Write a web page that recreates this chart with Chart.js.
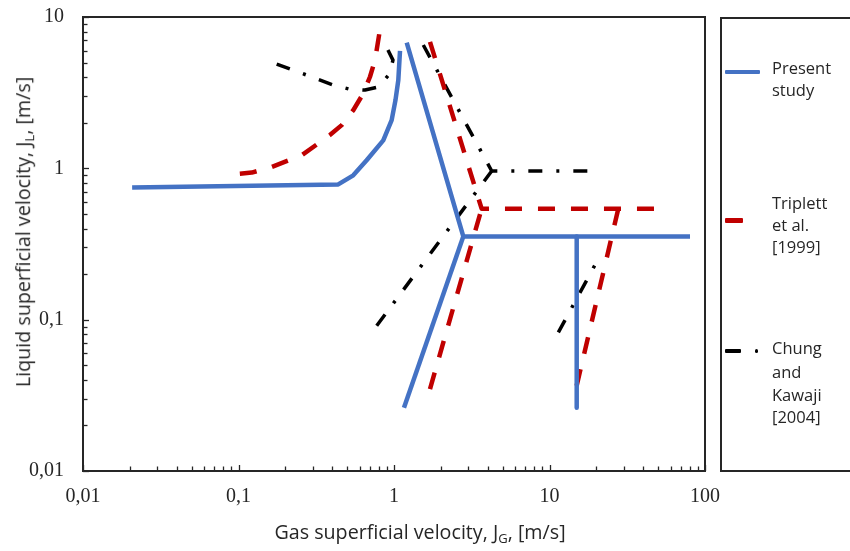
<!DOCTYPE html>
<html>
<head>
<meta charset="utf-8">
<script src="https://cdn.jsdelivr.net/npm/chart.js@4"></script>
<style>
html,body{margin:0;padding:0;background:#fff;}
#wrap{position:relative;width:850px;height:551px;overflow:hidden;background:#fff;}
#c{position:absolute;left:0;top:0;}
.t{position:absolute;font-family:"Open Sans",sans-serif;color:#262626;white-space:nowrap;line-height:1;}
.t sub{font-size:0.66em;vertical-align:-0.3em;line-height:0;}
#xt{left:420px;top:532px;font-size:19.7px;transform:translate(-50%,-50%);}
#yt{left:23px;top:232px;font-size:19.7px;transform:translate(-50%,-50%) rotate(-90deg);}
#legend{position:absolute;left:720px;top:17px;width:150px;height:451px;border:2px solid #262626;box-sizing:content-box;}
.lt{position:absolute;left:772px;font-family:"Open Sans",sans-serif;font-size:16.5px;color:#262626;transform:translateY(-50%);white-space:nowrap;line-height:1;}
.sw{position:absolute;}
</style>
</head>
<body>
<div id="wrap">
<canvas id="c" width="850" height="551"></canvas>
<div id="xt" class="t">Gas superficial velocity, J<sub>G</sub>, [m/s]</div>
<div id="yt" class="t">Liquid superficial velocity, J<sub>L</sub>, [m/s]</div>
<div id="legend"></div>
<div class="sw" style="left:725px;top:69.5px;width:35px;height:4.5px;background:#4472C4;border-radius:1px;"></div>
<div class="lt" style="top:68px;">Present</div>
<div class="lt" style="top:90px;">study</div>
<div class="sw" style="left:725px;top:218px;width:18px;height:4.5px;background:#C00000;border-radius:1px;"></div>
<div class="lt" style="top:203px;">Triplett</div>
<div class="lt" style="top:225px;">et al.</div>
<div class="lt" style="top:247px;">[1999]</div>
<div class="sw" style="left:725px;top:349px;width:16px;height:3.5px;background:#000;border-radius:1px;"></div>
<div class="sw" style="left:754.5px;top:349px;width:3.5px;height:3.5px;background:#000;border-radius:2px;"></div>
<div class="lt" style="top:348px;">Chung</div>
<div class="lt" style="top:372px;">and</div>
<div class="lt" style="top:395px;">Kawaji</div>
<div class="lt" style="top:417px;">[2004]</div>
</div>
<script>
// ---- Data (J_G gas superficial velocity, J_L liquid superficial velocity, m/s) ----
const presentStudyCurveJG = [0.0207, 0.438, 0.547, 0.667, 0.853, 0.966, 1.022, 1.066, 1.093];
const presentStudyCurveJL = [0.748, 0.783, 0.899, 1.13, 1.53, 2.08, 2.82, 3.83, 5.98];
const presentStudyUpperJG = [1.207, 2.79, 80.1];
const presentStudyUpperJL = [6.76, 0.355, 0.355];
const presentStudyLowerJG = [1.159, 2.79];
const presentStudyLowerJL = [0.0262, 0.355];
const presentStudyRightJG = [14.96, 14.96];
const presentStudyRightJL = [0.355, 0.0262];

const triplettCurveJG = [0.102, 0.1217, 0.1635, 0.255, 0.387, 0.461, 0.547, 0.635, 0.701, 0.755, 0.813];
const triplettCurveJL = [0.922, 0.937, 1.02, 1.22, 1.66, 1.93, 2.42, 3.13, 4.03, 5.19, 8.29];
const triplettUpperJG = [1.704, 3.66, 55.3];
const triplettUpperJL = [6.85, 0.541, 0.541];
const triplettLowerJG = [1.704, 3.66];
const triplettLowerJL = [0.0348, 0.541];
const triplettRightJG = [27.7, 14.6];
const triplettRightJL = [0.541, 0.033];

const chungCurveJG = [0.176, 0.268, 0.407, 0.516, 0.651, 0.793, 0.933, 0.985, 0.888];
const chungCurveJL = [4.89, 4.17, 3.55, 3.34, 3.29, 3.45, 4.19, 5.19, 6.43];
const chungUpperJG = [1.543, 4.25, 18.7];
const chungUpperJL = [6.53, 0.96, 0.96];
const chungLowerJG = [0.774, 4.25];
const chungLowerJL = [0.0912, 0.96];
const chungRightJG = [11.4, 20.5];
const chungRightJL = [0.0824, 0.25];

const xDecades = [0.01, 0.1, 1, 10, 100];
const yDecades = [0.01, 0.1, 1, 10];

// ---- Styles ----
const styles = {
  present: {borderColor: '#4472C4', borderWidth: 4.5, borderDash: []},
  triplett: {borderColor: '#C00000', borderWidth: 4.5, borderDash: [17, 16]},
  chung: {borderColor: '#000000', borderWidth: 3.5, borderDash: [14, 14, 3, 14]}
};

const segments = [
  ['present', presentStudyCurveJG, presentStudyCurveJL],
  ['present', presentStudyUpperJG, presentStudyUpperJL],
  ['present', presentStudyLowerJG, presentStudyLowerJL],
  ['present', presentStudyRightJG, presentStudyRightJL],
  ['triplett', triplettCurveJG, triplettCurveJL],
  ['triplett', triplettUpperJG, triplettUpperJL],
  ['triplett', triplettLowerJG, triplettLowerJL],
  ['triplett', triplettRightJG, triplettRightJL],
  ['chung', chungCurveJG, chungCurveJL],
  ['chung', chungUpperJG, chungUpperJL],
  ['chung', chungLowerJG, chungLowerJL],
  ['chung', chungRightJG, chungRightJL]
];

const datasets = segments.map(([key, xs, ys]) => Object.assign({
  data: xs.map((v, i) => ({x: v, y: ys[i]})),
  showLine: true,
  fill: false,
  pointRadius: 0,
  pointHoverRadius: 0,
  tension: 0,
  borderCapStyle: 'butt',
  borderJoinStyle: 'round'
}, styles[key]));

function isDecade(v) {
  const l = Math.log10(v);
  return Math.abs(l - Math.round(l)) < 1e-9;
}
function logTicks(decades) {
  const out = [];
  for (let i = 0; i < decades.length - 1; i++) {
    for (let m = 1; m <= 9; m++) out.push(parseFloat((m * decades[i]).toPrecision(6)));
  }
  out.push(decades[decades.length - 1]);
  return out.map(v => ({value: v}));
}
function fmt(v) {
  return isDecade(v) ? String(v).replace('.', ',') : '';
}

const tickFont = {family: '"Liberation Serif", "Times New Roman", serif', size: 20};

const frameAndTicks = {
  id: 'frameAndTicks',
  afterDraw(chart) {
    const {ctx, chartArea: a, scales: {x, y}} = chart;
    ctx.save();
    ctx.strokeStyle = '#262626';
    ctx.lineWidth = 1.3;
    x.ticks.forEach(t => {
      const px = Math.round(x.getPixelForValue(t.value)) + 0.5;
      ctx.beginPath();
      ctx.moveTo(px, a.bottom);
      ctx.lineTo(px, a.bottom - (isDecade(t.value) ? 6 : 4.5));
      ctx.stroke();
    });
    y.ticks.forEach(t => {
      const py = Math.round(y.getPixelForValue(t.value)) + 0.5;
      ctx.beginPath();
      ctx.moveTo(a.left, py);
      ctx.lineTo(a.left + (isDecade(t.value) ? 6 : 4.5), py);
      ctx.stroke();
    });
    ctx.lineWidth = 2;
    ctx.strokeRect(a.left, a.top, a.right - a.left, a.bottom - a.top);
    ctx.restore();
  }
};

new Chart(document.getElementById('c'), {
  type: 'scatter',
  data: {datasets},
  options: {
    responsive: false,
    animation: false,
    devicePixelRatio: 1,
    layout: {padding: {top: 17, right: 145, left: 0, bottom: 0}},
    plugins: {legend: {display: false}, tooltip: {enabled: false}},
    events: [],
    scales: {
      x: {
        type: 'logarithmic',
        min: xDecades[0],
        max: xDecades[xDecades.length - 1],
        grid: {display: false, drawTicks: false, tickLength: 0},
        border: {display: false},
        afterBuildTicks(s) { s.ticks = logTicks(xDecades); },
        afterFit(s) { s.height = 80; s.paddingLeft = 0; s.paddingRight = 0; },
        ticks: {
          autoSkip: false, maxRotation: 0, minRotation: 0,
          padding: 13.5, color: '#262626', font: tickFont,
          callback: v => fmt(v)
        }
      },
      y: {
        type: 'logarithmic',
        min: yDecades[0],
        max: yDecades[yDecades.length - 1],
        grid: {display: false, drawTicks: false, tickLength: 0},
        border: {display: false},
        afterBuildTicks(s) { s.ticks = logTicks(yDecades); },
        afterFit(s) { s.width = 83; s.paddingTop = 0; s.paddingBottom = 0; },
        ticks: {
          autoSkip: false,
          padding: 19, color: '#262626', font: tickFont,
          callback: v => fmt(v)
        }
      }
    }
  },
  plugins: [frameAndTicks]
});
</script>
</body>
</html>
